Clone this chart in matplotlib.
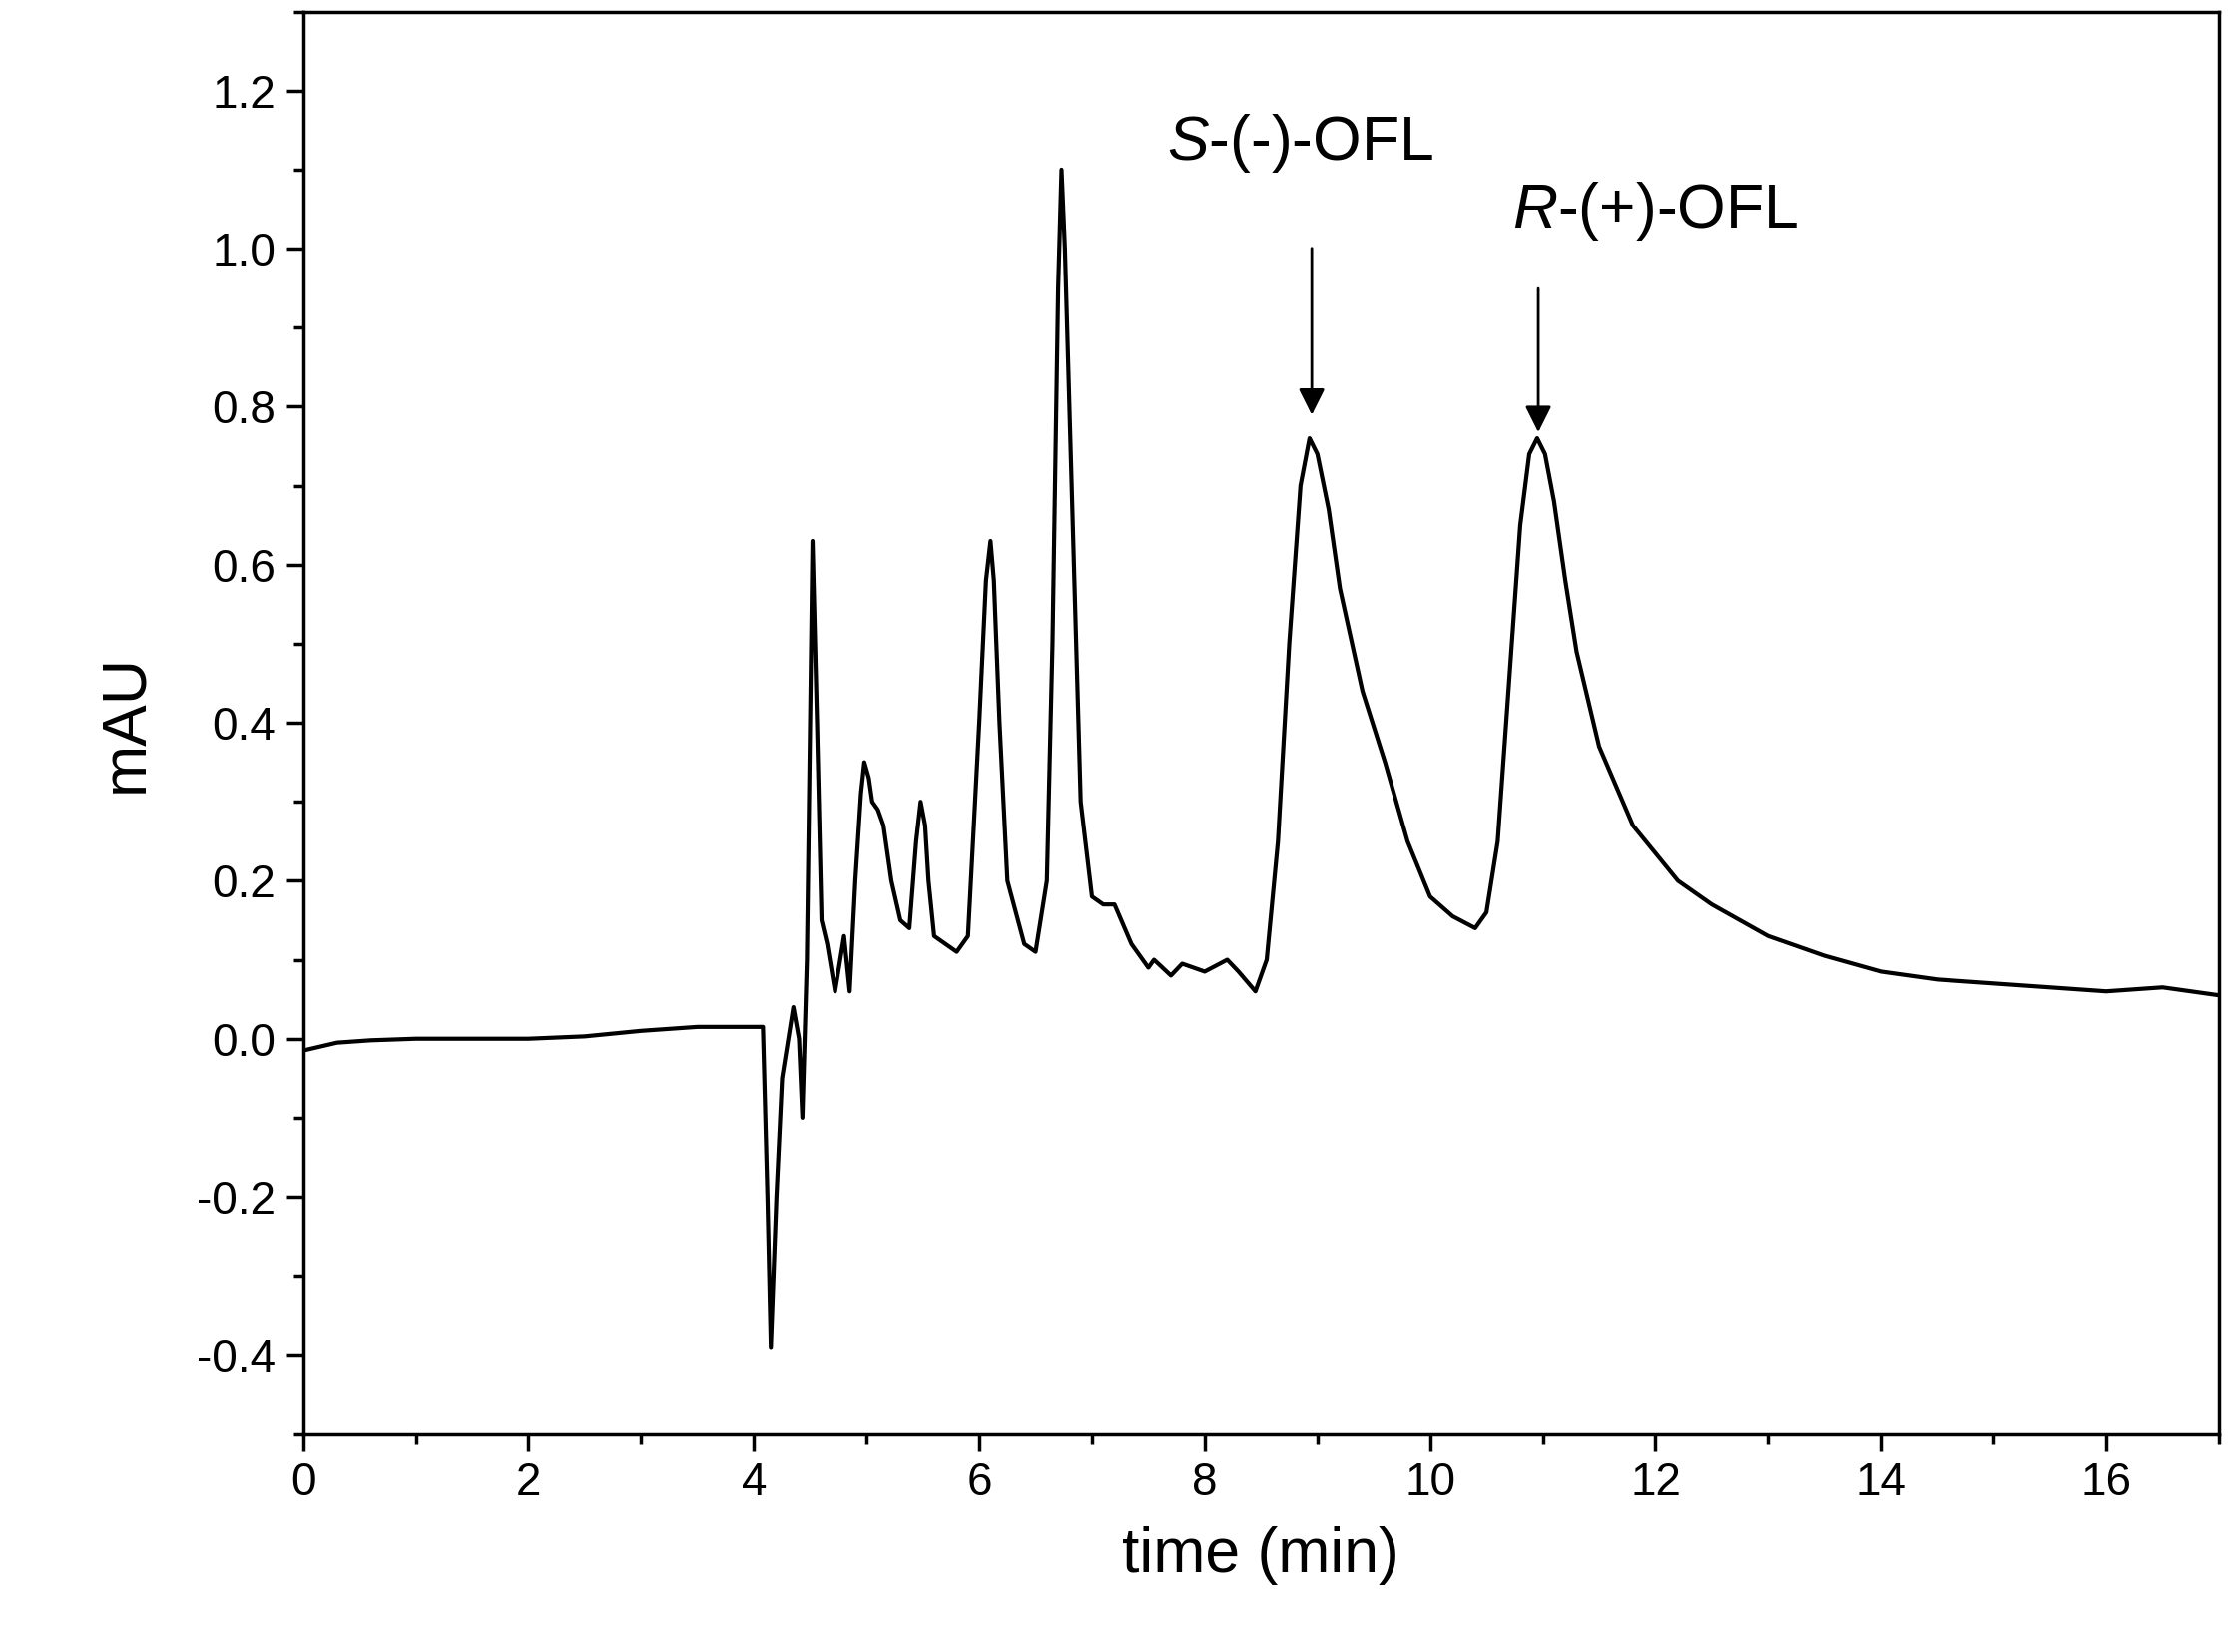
import matplotlib
matplotlib.use("Agg")
import matplotlib.pyplot as plt
from matplotlib.ticker import MultipleLocator

time = [0, 0.3, 0.6, 1, 1.5, 2, 2.5, 3, 3.5, 4.0, 4.08, 4.12, 4.15, 4.2, 4.25, 4.35, 4.4, 4.43, 4.47, 4.52, 4.56,
        4.6, 4.65, 4.72, 4.8, 4.85, 4.9, 4.95, 4.98, 5.02, 5.05, 5.1, 5.15, 5.22, 5.3, 5.38, 5.44, 5.48, 5.52, 5.55,
        5.6, 5.8, 5.9, 6.0, 6.06, 6.1, 6.13, 6.18, 6.25, 6.4, 6.5, 6.6, 6.65, 6.7, 6.73, 6.76, 6.8, 6.9, 7.0, 7.1,
        7.2, 7.35, 7.5, 7.55, 7.7, 7.8, 8.0, 8.2, 8.3, 8.45, 8.55, 8.65, 8.75, 8.85, 8.93, 9.0, 9.1, 9.2, 9.4, 9.6,
        9.8, 10.0, 10.2, 10.4, 10.5, 10.6, 10.7, 10.8, 10.88, 10.95, 11.02, 11.1, 11.2, 11.3, 11.5, 11.8, 12.2,
        12.5, 13, 13.5, 14, 14.5, 15, 15.5, 16, 16.5, 17]
mau = [-0.015, -0.005, -0.002, 0.0, 0.0, 0.0, 0.003, 0.01, 0.015, 0.015, 0.015, -0.2, -0.39, -0.2, -0.05, 0.04,
       0.0, -0.1, 0.1, 0.63, 0.4, 0.15, 0.12, 0.06, 0.13, 0.06, 0.2, 0.31, 0.35, 0.33, 0.3, 0.29, 0.27, 0.2, 0.15,
       0.14, 0.25, 0.3, 0.27, 0.2, 0.13, 0.11, 0.13, 0.4, 0.58, 0.63, 0.58, 0.4, 0.2, 0.12, 0.11, 0.2, 0.5, 0.95,
       1.1, 1.0, 0.8, 0.3, 0.18, 0.17, 0.17, 0.12, 0.09, 0.1, 0.08, 0.095, 0.085, 0.1, 0.085, 0.06, 0.1, 0.25, 0.5,
       0.7, 0.76, 0.74, 0.67, 0.57, 0.44, 0.35, 0.25, 0.18, 0.155, 0.14, 0.16, 0.25, 0.45, 0.65, 0.74, 0.76, 0.74,
       0.68, 0.58, 0.49, 0.37, 0.27, 0.2, 0.17, 0.13, 0.105, 0.085, 0.075, 0.07, 0.065, 0.06, 0.065, 0.055]

labels = ["$\\it{S}$-(-)-OFL", "$\\it{R}$-(+)-OFL"]
label_xy = [(8.85, 1.133), (12.0, 1.047)]
arrow_x = [8.95, 10.96]
arrow_y = [(1.004, 0.786), (0.953, 0.764)]

plt.rcParams['font.family'] = ['Liberation Sans', 'DejaVu Sans']
plt.rcParams['mathtext.fontset'] = 'custom'
plt.rcParams['mathtext.it'] = 'Liberation Sans:italic'
plt.rcParams['mathtext.rm'] = 'Liberation Sans'

fig = plt.figure(figsize=(22.33, 16.55), dpi=100)
ax = fig.add_axes([0.136, 0.132, 0.8595, 0.861])
ax.plot(time, mau, color='black', lw=3)
ax.set_xlim(0, 17)
ax.set_ylim(-0.5, 1.3)
ax.xaxis.set_major_locator(MultipleLocator(2))
ax.xaxis.set_minor_locator(MultipleLocator(1))
ax.yaxis.set_major_locator(MultipleLocator(0.2))
ax.yaxis.set_minor_locator(MultipleLocator(0.1))
ax.yaxis.set_major_formatter(plt.FuncFormatter(lambda v, p: f"{v:.1f}"))
ax.tick_params(which='major', length=12, width=2.5, labelsize=33, direction='out', pad=8)
ax.tick_params(which='minor', length=7, width=2.5, direction='out')
for s in ax.spines.values():
    s.set_linewidth(2.5)
ax.set_xlabel("time (min)", fontsize=45, labelpad=15)
ax.set_ylabel("mAU", fontsize=45, labelpad=30)

for lab, (lx, ly), axx, (y0, y1) in zip(labels, label_xy, arrow_x, arrow_y):
    ax.text(lx, ly, lab, fontsize=45, ha='center', va='center')
    ax.annotate("", xy=(axx, y1), xytext=(axx, y0),
                arrowprops=dict(arrowstyle='-|>', color='black', lw=2, mutation_scale=40))

fig.savefig("out.png", dpi=100)
